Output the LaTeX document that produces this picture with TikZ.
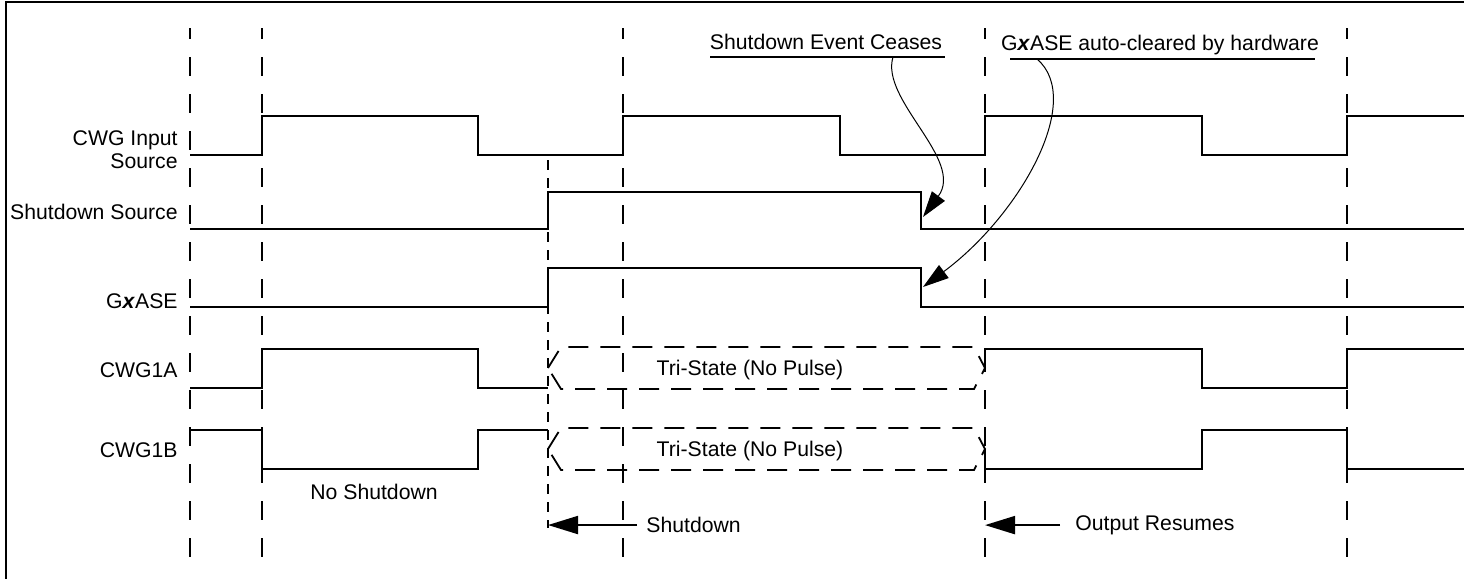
\documentclass[tikz,border=0pt]{standalone}
\usepackage{fontspec}
\setmainfont{Liberation Sans}
\usetikzlibrary{positioning,arrows.meta}
\begin{document}
\begin{tikzpicture}[x=0.5pt,y=-0.5pt,font=\fontsize{10.6pt}{11.5pt}\selectfont,
  >={Triangle[length=15pt,width=9pt]},
  sig/.style={line width=1pt},
  tline/.style={line width=1pt,dash pattern=on 9.5pt off 9pt,dash phase=4pt},
  sdline/.style={line width=1pt,dash pattern=on 5pt off 4pt},
  tri/.style={line width=0.9pt,dash pattern=on 10pt off 6pt},
  lbl/.style={anchor=east,inner sep=0pt,align=right},
  txt/.style={inner sep=0pt},
  curved/.style={line width=0.5pt,-{Triangle[length=13pt,width=8pt]}}]
\useasboundingbox (0,0) rectangle (1464,579);
\draw[line width=1pt] (6,579) -- (6,2) -- (1464,2);
% time markers
\foreach \n/\x in {a/190,b/262,d/623,e/985,f/1347}
  \draw[tline] (\x,28) coordinate (t\n) -- (\x,557);
\draw[sdline] (548,160) coordinate (tc) -- (548,528);
% signal names
\node[lbl] (inp) at (178,149.5) {CWG Input\\Source};
\node[lbl] (sds) at (178,212) {Shutdown Source};
\node[lbl] (ase) at (178,301) {G\textbf{\textit{x}}ASE};
\node[lbl] (cwa) at (178,370) {CWG1A};
\node[lbl] (cwb) at (178,450) {CWG1B};
% waveforms
\draw[sig] (190,155) -- (262,155) -- (262,116) -- (478,116) -- (478,155) -- (623,155) -- (623,116)
  -- (840,116) -- (840,155) -- (985,155) -- (985,116) -- (1202,116) -- (1202,155) -- (1347,155)
  -- (1347,116) -- (1464,116);
\draw[sig] (190,229) -- (548,229) -- (548,192) -- (921,192) -- (921,229) -- (1464,229);
\draw[sig] (190,307) -- (548,307) -- (548,268) -- (921,268) -- (921,307) -- (1464,307);
\draw[sig] (190,388) -- (262,388) -- (262,349) -- (478,349) -- (478,388) -- (548,388);
\draw[sig] (985,368) -- (985,349) -- (1202,349) -- (1202,388) -- (1347,388) -- (1347,349) -- (1464,349);
\draw[sig] (190,430) -- (262,430) -- (262,469) -- (478,469) -- (478,430) -- (548,430);
\draw[sig] (985,449) -- (985,469) -- (1202,469) -- (1202,430) -- (1347,430) -- (1347,469) -- (1464,469);
\foreach \y/\n in {368/A,449/B}{
  \draw[tri] (548,\y) -- (561,\y-21) -- (974,\y-21) -- (985,\y) -- (974,\y+21) -- (561,\y+21) -- cycle;
  \node[txt,anchor=base] (tri\n) at (750,\y+7.6) {Tri-State (No Pulse)};
}
% notes
\node[txt,anchor=base] (cease) at (826,49.6) {Shutdown Event Ceases};
\draw[line width=1pt] (710,57) -- (945,57);
\node[txt,anchor=base] (clr) at (1160,50.6) {G\textbf{\textit{x}}ASE auto-cleared by hardware};
\draw[line width=1pt] (1010,59) -- (1315,59);
\coordinate (ceaseA) at (893,57);
\coordinate (clrA) at (1037,59);
\coordinate (sdfall) at (923,217);
\coordinate (asefall) at (923,287);
\draw[curved] (ceaseA) .. controls (880,100) and (965,160) .. (sdfall);
\draw[curved] (clrA) .. controls (1085,100) and (1020,215) .. (asefall);
% bottom
\node[txt,anchor=base west] (nosd) at (310,499.6) {No Shutdown};
\node[txt,anchor=base west,inner xsep=4.5pt] (sd) at (637,532.6) {Shutdown};
\draw[line width=1pt,->] (sd.west) -- (sd.west -| tc);
\node[txt,anchor=base west,inner xsep=7.5pt] (res) at (1060,530.3) {Output Resumes};
\draw[line width=1pt,->] (res.west) -- (res.west -| te);
\end{tikzpicture}
\end{document}
